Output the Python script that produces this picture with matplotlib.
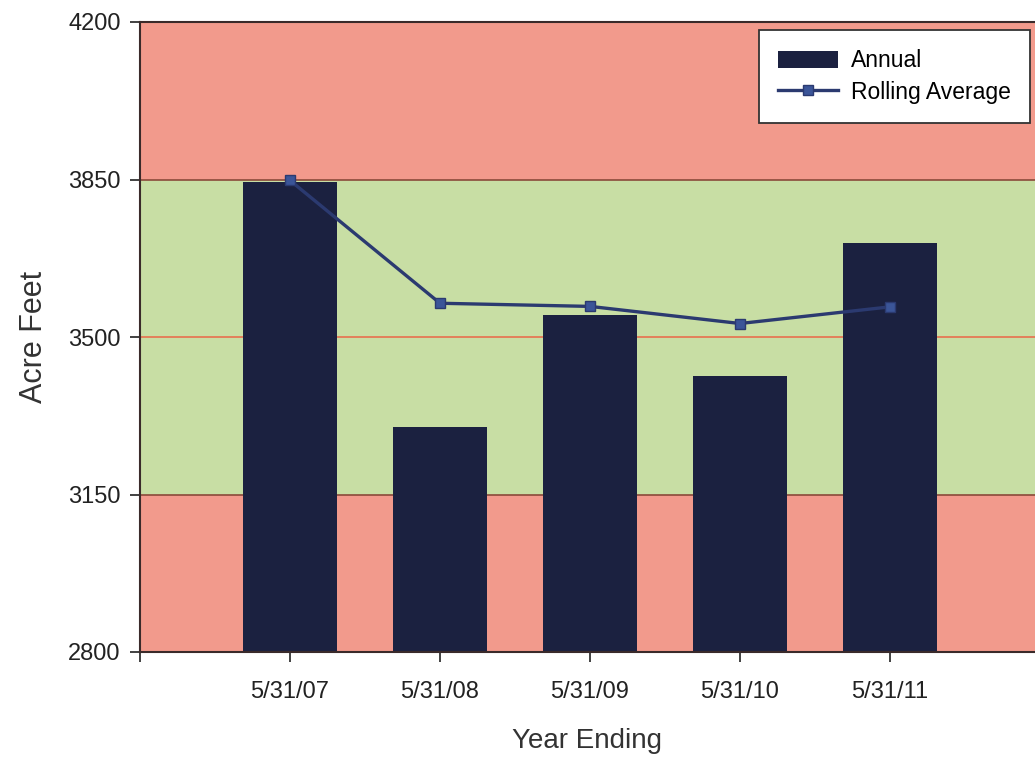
import matplotlib
matplotlib.use("Agg")
import matplotlib.pyplot as plt
import numpy as np

categories = ["5/31/07", "5/31/08", "5/31/09", "5/31/10", "5/31/11"]
annual = [3845, 3300, 3550, 3413, 3708]
rolling = [3848, 3575, 3568, 3530, 3567]
yticks = [2800, 3150, 3500, 3850, 4200]

plt.rcParams['font.family'] = ['Liberation Sans', 'DejaVu Sans']

fig = plt.figure(figsize=(10.35, 7.57), dpi=100)
fig.patch.set_facecolor('white')
ax = fig.add_axes([140/1035, 105/757, 1 - 140/1035, (652-22)/757])

salmon = '#F29A8C'
green = '#C8DEA4'
ax.axhspan(3850, 4200, color=salmon, zorder=0, lw=0)
ax.axhspan(3150, 3850, color=green, zorder=0, lw=0)
ax.axhspan(2800, 3150, color=salmon, zorder=0, lw=0)
ax.axhline(3850, color='#8a4a3a', lw=1.2, zorder=1)
ax.axhline(3150, color='#8a4a3a', lw=1.2, zorder=1)
ax.axhline(3500, color='#E8704E', lw=1.2, zorder=1)

x = np.arange(len(categories))
bars = ax.bar(x, [a - 2800 for a in annual], bottom=2800, width=0.63,
              color='#1B2140', zorder=2, label='Annual')
line, = ax.plot(x, rolling, color='#2B3A70', lw=2.4, marker='s', markersize=7,
                markerfacecolor='#3B5598', markeredgecolor='#2B3A70', zorder=3,
                label='Rolling Average')

ax.set_xlim(-1, (1035 - 290) / 150)
ax.set_ylim(2800, 4200)
ax.set_yticks(yticks)
ax.set_yticklabels([str(v) for v in yticks], fontsize=17, color='#222222')
ax.set_xticks(x)
ax.set_xticklabels(categories, fontsize=17, color='#222222')
ax.set_xticks([-1], minor=True)
ax.tick_params(axis='both', which='both', direction='out', length=7, width=1.3, color='#333333', pad=7)
ax.tick_params(axis='x', which='major', pad=14)

for s in ['left', 'bottom', 'top']:
    ax.spines[s].set_color('#3a2a2a')
    ax.spines[s].set_linewidth(1.5)
ax.spines['right'].set_visible(False)

ax.set_ylabel('Acre Feet', fontsize=22, color='#333333', labelpad=14)
ax.set_xlabel('Year Ending', fontsize=20, color='#333333', labelpad=18)

leg = ax.legend([bars, line], ['Annual', 'Rolling Average'],
                loc='upper right', bbox_to_anchor=(1030/1035, 1 - 30/757),
                bbox_transform=fig.transFigure, fontsize=16.5,
                frameon=True, fancybox=False, framealpha=1, edgecolor='#333333',
                handlelength=2.6, handleheight=0.75, borderpad=0.85, labelspacing=0.35,
                handletextpad=0.55, borderaxespad=0)
leg.get_frame().set_linewidth(1.3)

fig.savefig('out.png', dpi=100)
